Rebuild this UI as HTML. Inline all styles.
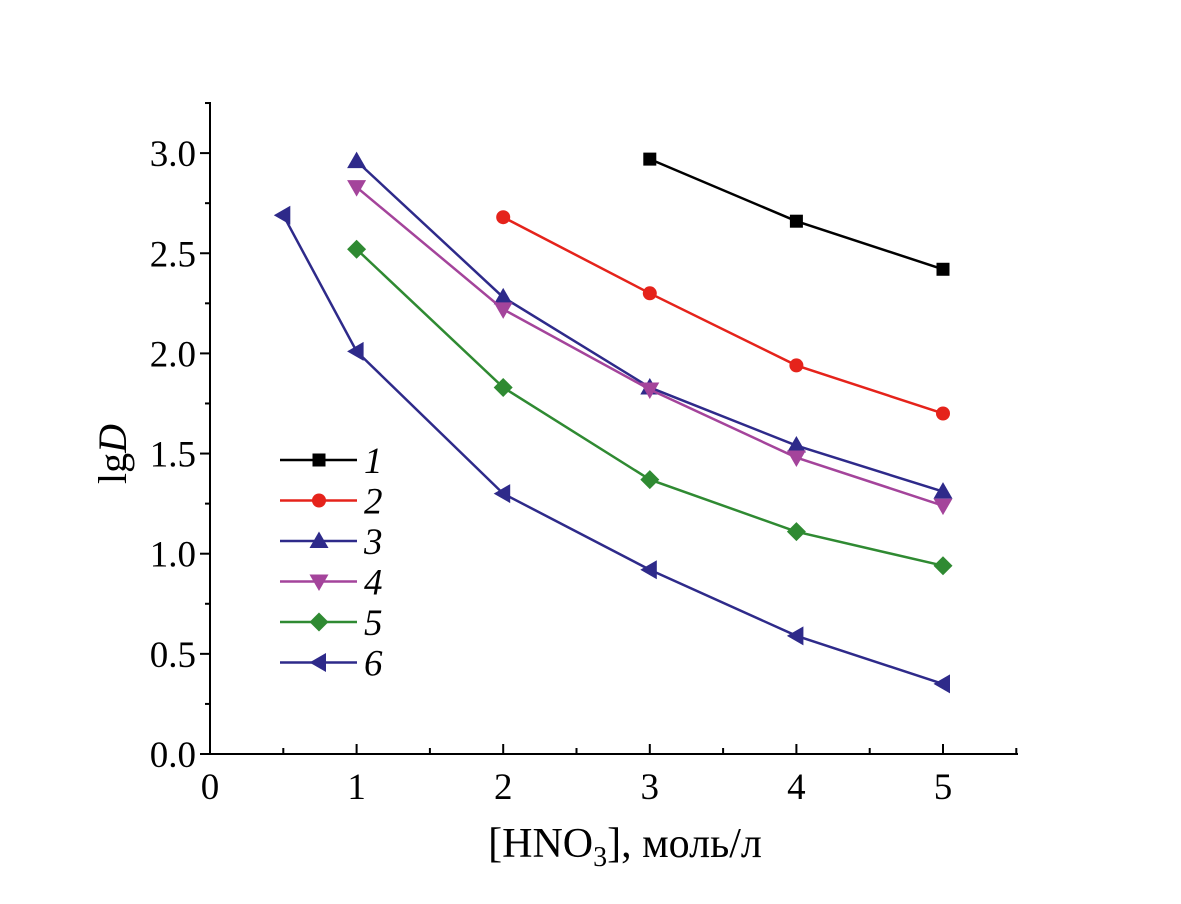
<!DOCTYPE html>
<html><head><meta charset="utf-8"><style>
html,body{margin:0;padding:0;background:#fff;}
svg{display:block;font-family:"Liberation Serif",serif;}
</style></head><body>
<svg id="chart" width="1181" height="904" viewBox="0 0 1181 904" xmlns="http://www.w3.org/2000/svg">
<g id="axes"></g>
<g id="series"></g>
<g id="legend"></g>
<text transform="translate(126,454) rotate(-90)" text-anchor="middle" font-size="40">lg<tspan font-style="italic">D</tspan></text>
<text x="625" y="857" text-anchor="middle" font-size="42">[HNO<tspan font-size="28" dy="9">3</tspan><tspan dy="-9">], моль/л</tspan></text>
</svg>
<script>
const xTicks=[0,1,2,3,4,5];
const yTicks=[0,0.5,1.0,1.5,2.0,2.5,3.0];
const yTickLabels=["0.0","0.5","1.0","1.5","2.0","2.5","3.0"];
const names=["1","2","3","4","5","6"];
const colors=["#000000","#e5231b","#2e2a8a","#a4449b","#2f8a32","#2e2a8a"];
const markers=["square","circle","up","down","diamond","left"];
const x1=[3,4,5], y1=[2.97,2.66,2.42];
const x2=[2,3,4,5], y2=[2.68,2.30,1.94,1.70];
const x3=[1,2,3,4,5], y3=[2.96,2.28,1.83,1.54,1.31];
const x4=[1,2,3,4,5], y4=[2.83,2.22,1.82,1.48,1.24];
const x5=[1,2,3,4,5], y5=[2.52,1.83,1.37,1.11,0.94];
const x6=[0.5,1,2,3,4,5], y6=[2.69,2.01,1.30,0.92,0.59,0.35];
const xs=[x1,x2,x3,x4,x5,x6], ys=[y1,y2,y3,y4,y5,y6];

const NS="http://www.w3.org/2000/svg";
const X=v=>210+v*146.6;
const Y=v=>754-v*200.3;
function mk(tag,attrs,parent){const e=document.createElementNS(NS,tag);for(const k in attrs)e.setAttribute(k,attrs[k]);parent.appendChild(e);return e;}
const axes=document.getElementById('axes');
let e;
e=mk('line',{x1:210,y1:754,x2:1018,y2:754,stroke:'#000','stroke-width':2},axes);


e=mk('line',{x1:210,y1:754,x2:210,y2:102,stroke:'#000','stroke-width':2},axes);


for(let v=0.5;v<=5.5;v+=1){mk('line',{x1:X(v),y1:754,x2:X(v),y2:748,stroke:'#000','stroke-width':2},axes);}
xTicks.forEach(v=>{
 if(v>0)mk('line',{x1:X(v),y1:754,x2:X(v),y2:744,stroke:'#000','stroke-width':2},axes);
 const t=mk('text',{x:X(v),y:799,'text-anchor':'middle','font-size':37},axes);t.textContent=v;
 
 
});
for(let v=0.25;v<=3.25;v+=0.5){mk('line',{x1:210,y1:Y(v),x2:205,y2:Y(v),stroke:'#000','stroke-width':2},axes);}
yTicks.forEach((v,i)=>{
 mk('line',{x1:210,y1:Y(v),x2:200,y2:Y(v),stroke:'#000','stroke-width':2},axes);
 const t=mk('text',{x:196,y:Y(v)+13,'text-anchor':'end','font-size':37},axes);t.textContent=yTickLabels[i];
 
 
});
function marker(type,cx,cy,c,p){
 const s=9.5;
 if(type==='square')return mk('rect',{x:cx-6.5,y:cy-6.5,width:13,height:13,fill:c},p);
 if(type==='circle')return mk('circle',{cx:cx,cy:cy,r:7,fill:c},p);
 let pts;
 if(type==='up')pts=[[cx,cy-s],[cx+s,cy+7],[cx-s,cy+7]];
 if(type==='down')pts=[[cx,cy+s],[cx+s,cy-7],[cx-s,cy-7]];
 if(type==='left')pts=[[cx-s,cy],[cx+7,cy-s],[cx+7,cy+s]];
 if(type==='diamond')pts=[[cx,cy-s],[cx+s,cy],[cx,cy+s],[cx-s,cy]];
 return mk('polygon',{points:pts.map(q=>q.join(',')).join(' '),fill:c},p);
}
const sg=document.getElementById('series');
xs.forEach((xa,i)=>{
 const g=mk('g',{},sg);
 
 
 mk('polyline',{points:xa.map((x,j)=>X(x)+','+Y(ys[i][j])).join(' '),fill:'none',stroke:colors[i],'stroke-width':2.5},g);
 xa.forEach((x,j)=>{const m=marker(markers[i],X(x),Y(ys[i][j]),colors[i],g);
  
  });
});
const lg=document.getElementById('legend');
names.forEach((n,i)=>{
 const y=460+i*40.5;
 const g=mk('g',{},lg);
 
 
 mk('line',{x1:280,y1:y,x2:357,y2:y,stroke:colors[i],'stroke-width':2.5},g);
 marker(markers[i],319,y,colors[i],g);
 const t=mk('text',{x:364,y:y+13,'font-size':37,'font-style':'italic'},g);t.textContent=n;
});
</script>
</body></html>
